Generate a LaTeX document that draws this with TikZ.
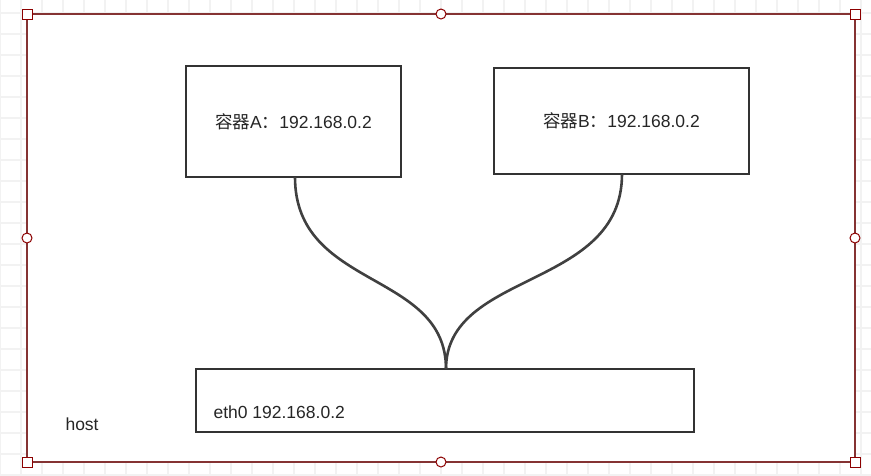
\documentclass[tikz,border=0pt]{standalone}
\usepackage{fontspec}
\setmainfont{Liberation Sans}
\newfontfamily\cjk{Noto Sans CJK SC}
\begin{document}
\begin{tikzpicture}[x=1pt,y=-1pt,
  box/.style={draw=black!80,line width=2pt,fill=white},
  lbl/.style={font=\fontsize{17.5}{20}\selectfont,text=black!85},
  handlesq/.style={draw=red!55!black,fill=white,line width=1pt,minimum size=10pt,inner sep=0pt},
  handlec/.style={circle,draw=red!55!black,fill=white,line width=1pt,minimum size=10pt,inner sep=0pt},
  wire/.style={draw=black!75,line width=2.6pt}]
\useasboundingbox (0,0) rectangle (871,475);
\fill[white] (0,0) rectangle (871,475);
\foreach \x in {0,21,...,871} \draw[black!5,line width=1.5pt] (\x,0) -- (\x,475);
\foreach \y in {13,34,...,475} \draw[black!5,line width=1.5pt] (0,\y) -- (871,\y);
\fill[white] (27,14) rectangle (855,462);
\draw[draw=red!40!black!80,line width=2.5pt] (27,14) rectangle (855,462);
\node[box,minimum width=215pt,minimum height=111pt,lbl] (a) at (293.5,121.5) {{\cjk 容器}A{\cjk ：}192.168.0.2};
\node[box,minimum width=255pt,minimum height=106pt,lbl] (b) at (621.5,121) {{\cjk 容器}B{\cjk ：}192.168.0.2};
\node[box,minimum width=498pt,minimum height=63pt] (e) at (445,400.5) {};
\node[lbl,anchor=west] (et) at (210,412) {eth0 192.168.0.2};
\node[lbl,anchor=west] (h) at (62,424) {host};
\coordinate (j) at (446,369);
\draw[wire] (295,177) .. controls (295,290) and (446,270) .. (j);
\draw[wire] (622,174) .. controls (622,290) and (446,270) .. (j);
\node[handlesq] (h1) at (27,14) {};
\node[handlesq] (h2) at (855,14) {};
\node[handlesq] (h3) at (27,462) {};
\node[handlesq] (h4) at (855,462) {};
\node[handlec] (h5) at (441,14) {};
\node[handlec] (h6) at (441,462) {};
\node[handlec] (h7) at (27,238) {};
\node[handlec] (h8) at (855,238) {};
\end{tikzpicture}
\end{document}
